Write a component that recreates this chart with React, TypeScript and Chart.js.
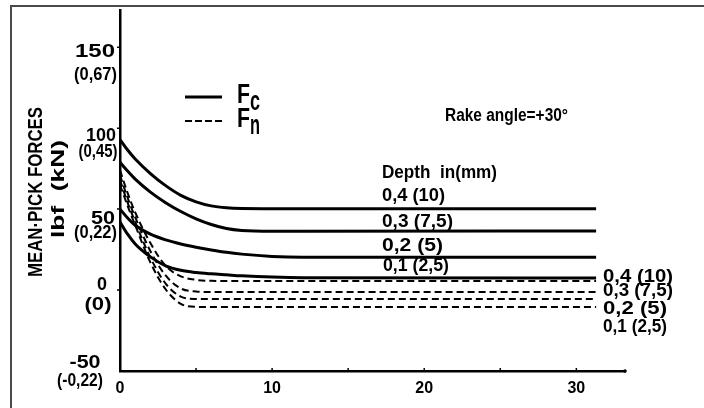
import React, { useEffect, useRef } from "react";
import { Chart, registerables } from "chart.js";

Chart.register(...registerables);

// ---- data ----
const xValues = [0, 0.5, 1, 2, 3, 4, 5, 6, 7, 8, 10, 12, 31.3];
const depthLabels = ["0,4 (10)", "0,3 (7,5)", "0,2 (5)", "0,1 (2,5)"];
const fc04 = [93, 86.5, 81, 72, 64.5, 58.5, 54.5, 52, 50.8, 50.4, 50.3, 50.3, 50.2];
const fc03 = [79, 73.5, 68.5, 60.5, 54, 48.5, 44, 40.5, 38, 36.8, 36.3, 36.3, 36.5];
const fc02 = [50, 44.5, 40, 34.5, 31, 28.5, 26.5, 24.8, 23.3, 22.2, 20.8, 20.3, 20.3];
const fc01 = [42, 34.5, 28.5, 20.5, 15, 12.2, 10.8, 10, 9.4, 8.8, 8, 7.6, 7.4];
const fn04 = [74, 60, 48, 29, 15, 8.5, 6.3, 5.7, 5.6, 5.6, 5.6, 5.6, 5.6];
const fn03 = [71, 57, 45, 24, 9, 1, -0.9, -1.2, -1.2, -1.2, -1.2, -1.2, -1.2];
const fn02 = [68, 54, 42, 20, 4, -4, -5.5, -5.6, -5.6, -5.6, -5.6, -5.6, -5.6];
const fn01 = [65, 52, 40, 17, 0.5, -8.5, -10.4, -10.5, -10.5, -10.5, -10.5, -10.5, -10.5];
const xTicks = [0, 10, 20, 30];
const xTickLabels = ["0", "10", "20", "30"];
const xMinorTicks = [5, 10, 15, 20, 25, 30];
const yTicks = [150, 100, 50, 0, -50];
const yTickLbf = ["150", "100", "50", "0", "-50"];
const yTickKN = ["(0,67)", "(0,45)", "(0,22)", "(0)", "(-0,22)"];
const yTitle = "MEAN·PICK FORCES";
const yUnit = "lbf  (kN)";
const rakeText = "Rake angle=+30°";
const depthTitle = "Depth  in(mm)";

// ---- layout (pixels) ----
const yLabelLayout = [
  { cx: 95, w: 40, dy: 9.5, cx2: 95.5, w2: 43, dy2: 33 },
  { cx: 101, w: 30, dy: 13, cx2: 98, w2: 39, dy2: 29 },
  { cx: 103, w: 24, dy: 15, cx2: 95.5, w2: 43, dy2: 29 },
  { cx: 102, w: 10, dy: 0, cx2: 98, w2: 27, dy2: 20 },
  { cx: 85, w: 31, dy: -3, cx2: 80, w2: 46, dy2: 15 },
];
const fcLabelLayout = [
  { x: 382, y: 201, w: 63 },
  { x: 382, y: 227, w: 71 },
  { x: 382, y: 251, w: 61 },
  { x: 383, y: 271, w: 66 },
];
const fnLabelLayout = [
  { x: 603, y: 282, w: 70 },
  { x: 603, y: 296, w: 70 },
  { x: 603, y: 314, w: 64 },
  { x: 603, y: 332, w: 64 },
];

function fitText(ctx: CanvasRenderingContext2D, text: string, x: number, y: number, w: number, font: string, align: CanvasTextAlign = "left", rot = 0) {
  ctx.save();
  ctx.font = font;
  ctx.textAlign = align;
  ctx.textBaseline = "alphabetic";
  const m = ctx.measureText(text).width || 1;
  ctx.translate(x, y);
  if (rot) ctx.rotate(rot);
  ctx.scale(w / m, 1);
  ctx.fillText(text, 0, 0);
  ctx.restore();
}

const annotPlugin = {
  id: "annot",
  beforeDraw(chart: any) {
    const { ctx, width, height } = chart;
    ctx.save();
    ctx.fillStyle = "#fff";
    ctx.fillRect(0, 0, width, height);
    ctx.strokeStyle = "#4a4a4a";
    ctx.lineWidth = 2;
    ctx.beginPath();
    ctx.moveTo(11, height);
    ctx.lineTo(11, 6);
    ctx.lineTo(width, 6);
    ctx.stroke();
    ctx.restore();
  },
  afterDraw(chart: any) {
    const { ctx, chartArea } = chart;
    const xs = chart.scales.x;
    const ys = chart.scales.y;
    ctx.save();
    ctx.fillStyle = "#000";
    ctx.strokeStyle = "#000";
    // minor ticks
    ctx.lineWidth = 1.5;
    ctx.beginPath();
    xMinorTicks.forEach((v) => {
      const px = xs.getPixelForValue(v);
      ctx.moveTo(px, chartArea.bottom);
      ctx.lineTo(px, chartArea.bottom - 3);
    });
    yTicks.slice(0, 4).forEach((v) => {
      const py = ys.getPixelForValue(v);
      ctx.moveTo(chartArea.left, py);
      ctx.lineTo(chartArea.left - 3, py);
    });
    ctx.stroke();
    ctx.beginPath();
    ctx.arc(chartArea.right, chartArea.bottom, 1.8, 0, Math.PI * 2);
    ctx.fill();

    // y tick labels
    const yFont = "bold 18px 'Liberation Sans'";
    yTicks.forEach((v, i) => {
      const py = ys.getPixelForValue(v);
      const L = yLabelLayout[i];
      fitText(ctx, yTickLbf[i], L.cx, py + L.dy, L.w, yFont, "center");
      fitText(ctx, yTickKN[i], L.cx2, py + L.dy2, L.w2, yFont, "center");
    });

    // y titles
    fitText(ctx, yTitle, 42, 192, 170, "bold 20px 'Liberation Sans'", "center", -Math.PI / 2);
    fitText(ctx, yUnit, 64, 189, 98, "bold 18px 'Liberation Sans'", "center", -Math.PI / 2);

    // legend
    ctx.lineWidth = 3;
    ctx.beginPath();
    ctx.moveTo(185, 97);
    ctx.lineTo(222, 97);
    ctx.stroke();
    ctx.lineWidth = 2;
    ctx.setLineDash([7, 3]);
    ctx.beginPath();
    ctx.moveTo(185, 121);
    ctx.lineTo(223, 121);
    ctx.stroke();
    ctx.setLineDash([]);
    const legFont = "bold 27px 'Liberation Sans'";
    fitText(ctx, "F", 237, 103, 13, legFont);
    fitText(ctx, "c", 250, 110, 10, legFont);
    fitText(ctx, "F", 237, 127, 13, legFont);
    fitText(ctx, "n", 250, 134, 10, legFont);

    // annotations
    const aFont = "bold 18px 'Liberation Sans'";
    fitText(ctx, rakeText, 445, 121, 123, aFont);
    fitText(ctx, depthTitle, 382, 178, 115, aFont);
    depthLabels.forEach((t, i) => {
      const a = fcLabelLayout[i];
      fitText(ctx, t, a.x, a.y, a.w, aFont);
      const b = fnLabelLayout[i];
      fitText(ctx, t, b.x, b.y, b.w, aFont);
    });
    ctx.restore();
  },
};

export default function App() {
  const ref = useRef<HTMLCanvasElement | null>(null);
  useEffect(() => {
    if (!ref.current) return;
    const mk = (vals: number[], dashed: boolean) => ({
      data: xValues.map((x, i) => ({ x, y: vals[i] })),
      borderColor: "#000",
      borderWidth: dashed ? 2 : 3,
      borderDash: dashed ? [7, 4] : [],
      pointRadius: 0,
      fill: false,
      cubicInterpolationMode: "monotone" as const,
      tension: 0.4,
    });
    const chart = new Chart(ref.current, {
      type: "line",
      data: {
        datasets: [
          mk(fc04, false),
          mk(fc03, false),
          mk(fc02, false),
          mk(fc01, false),
          mk(fn04, true),
          mk(fn03, true),
          mk(fn02, true),
          mk(fn01, true),
        ],
      },
      options: {
        animation: false,
        responsive: false,
        maintainAspectRatio: false,
        devicePixelRatio: 1,
        layout: { padding: { left: 0, right: 79, top: 10, bottom: 0 } },
        plugins: { legend: { display: false }, tooltip: { enabled: false } },
        scales: {
          x: {
            type: "linear",
            min: 0,
            max: 33.2,
            afterBuildTicks: (s: any) => {
              s.ticks = xTicks.map((v) => ({ value: v }));
            },
            afterFit: (s: any) => {
              s.height = 37;
            },
            grid: { display: false, drawTicks: false },
            border: { display: true, color: "#000", width: 2.5 },
            ticks: {
              padding: 8,
              color: "#000",
              maxRotation: 0,
              font: { family: "'Liberation Sans'", size: 16, weight: "bold" },
              callback: (v: any) => {
                const i = xTicks.indexOf(Number(v));
                return i >= 0 ? xTickLabels[i] : "";
              },
            },
          },
          y: {
            type: "linear",
            min: -50,
            max: 173,
            afterFit: (s: any) => {
              s.width = 120;
            },
            grid: { display: false, drawTicks: false },
            border: { display: true, color: "#000", width: 2.5 },
            ticks: { display: false },
          },
        },
      },
      plugins: [annotPlugin],
    } as any);
    return () => chart.destroy();
  }, []);
  return (
    <div style={{ position: "absolute", left: 0, top: 0, width: 704, height: 408 }}>
      <canvas ref={ref} width={704} height={408} style={{ display: "block", width: 704, height: 408 }} />
    </div>
  );
}
